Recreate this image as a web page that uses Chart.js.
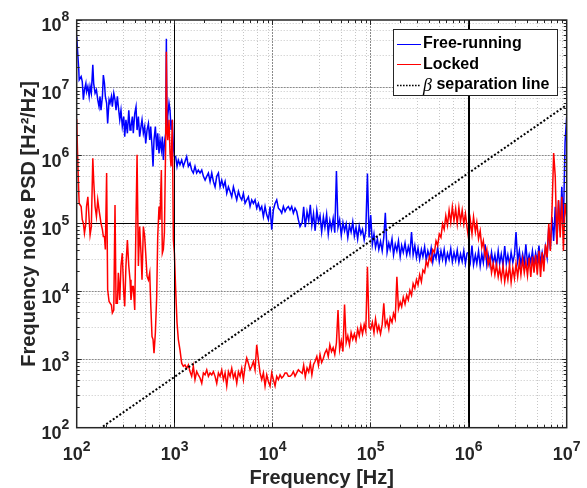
<!DOCTYPE html>
<html><head><meta charset="utf-8">
<script src="https://cdn.jsdelivr.net/npm/chart.js@4.4.1/dist/chart.umd.min.js"></script>
<style>html,body{margin:0;padding:0;background:#fff}canvas{display:block}</style>
</head><body>
<canvas id="c" width="587" height="488"></canvas>
<script>
// ---------------- data ----------------
const freqHz = [
  // 100 Hz - 1 kHz
  100,102,105,106,111,114,117,120,124,126,
  130,134,137,141,146,149,154,159,164,169,
  173,177,183,187,192,196,202,207,214,219,
  226,231,239,246,252,260,266,275,283,292,
  302,309,318,329,340,350,358,370,378,391,
  403,413,426,439,453,464,479,494,506,522,
  539,556,569,587,601,615,635,655,671,692,
  708,731,748,766,785,809,822,835,849,875,
  896,918,946,969,993,
  // 1 kHz - 20 kHz
  1023,1056,1089,1132,1178,1225,1274,1325,1378,1433,
  1490,1549,1611,1675,1742,1814,1888,1963,2042,2123,
  2208,2296,2388,2483,2582,2685,2793,2904,3020,3141,
  3266,3397,3532,3673,3820,3972,4131,4296,4467,4645,
  4831,5024,5224,5433,5650,5875,6110,6354,6607,6871,
  7145,7430,7727,8035,8356,8690,9036,9397,9772,10160,
  10570,10990,11430,11890,12360,12850,13370,13900,14450,15030,
  15630,16250,16900,17580,18280,19010,
  // 20 kHz - 100 kHz
  2.00e4,2.07e4,2.15e4,2.24e4,2.33e4,2.42e4,2.51e4,2.61e4,2.71e4,2.82e4,
  2.93e4,3.04e4,3.16e4,3.29e4,3.41e4,3.55e4,3.69e4,3.83e4,3.98e4,4.14e4,
  4.30e4,4.47e4,4.64e4,4.82e4,5.01e4,5.21e4,5.41e4,5.62e4,5.84e4,6.07e4,
  6.31e4,6.56e4,6.81e4,7.08e4,7.36e4,7.64e4,7.94e4,8.25e4,8.58e4,8.91e4,
  9.26e4,9.62e4,
  // 100 kHz - 1 MHz
  1.00e5,1.04e5,1.08e5,1.12e5,1.17e5,1.21e5,1.26e5,1.31e5,1.36e5,1.41e5,
  1.47e5,1.53e5,1.58e5,1.65e5,1.71e5,1.78e5,1.85e5,1.92e5,2.00e5,2.07e5,
  2.15e5,2.24e5,2.33e5,2.42e5,2.51e5,2.61e5,2.71e5,2.82e5,2.93e5,3.04e5,
  3.16e5,3.29e5,3.41e5,3.55e5,3.69e5,3.83e5,3.98e5,4.14e5,4.30e5,4.47e5,
  4.64e5,4.82e5,5.01e5,5.21e5,5.41e5,5.62e5,5.84e5,6.07e5,6.31e5,6.56e5,
  6.81e5,7.08e5,7.36e5,7.64e5,7.94e5,8.25e5,8.58e5,8.91e5,9.26e5,9.62e5,
  // 1 MHz - 10 MHz
  1.00e6,1.04e6,1.08e6,1.12e6,1.17e6,1.21e6,1.26e6,1.31e6,1.36e6,1.41e6,
  1.47e6,1.53e6,1.58e6,1.65e6,1.71e6,1.78e6,1.85e6,1.92e6,2.00e6,2.07e6,
  2.15e6,2.24e6,2.33e6,2.42e6,2.51e6,2.61e6,2.71e6,2.82e6,2.93e6,3.04e6,
  3.16e6,3.29e6,3.41e6,3.55e6,3.69e6,3.83e6,3.98e6,4.14e6,4.30e6,4.47e6,
  4.64e6,4.82e6,5.01e6,5.21e6,5.41e6,5.62e6,5.84e6,6.07e6,6.31e6,6.56e6,
  6.81e6,7.08e6,7.36e6,7.64e6,7.94e6,8.25e6,8.58e6,8.91e6,9.26e6,9.62e6,
  1.00e7
];

const freeRunningPSD = [
  5.7e7,3.6e7,1.84e7,1.31e7,1.47e7,1.24e7,6.7e6,9.4e6,1.17e7,8.8e6,
  1.05e7,7.5e6,1.05e7,8.4e6,2.2e7,1.17e7,8.4e6,9.4e6,6.7e6,5.3e6,
  7.5e6,4.7e6,7.5e6,1.55e7,1.17e7,7.5e6,6.0e6,3.0e6,6.7e6,6.0e6,
  7.5e6,5.3e6,8.4e6,6.7e6,4.7e6,7.5e6,5.3e6,3.4e6,4.7e6,2.7e6,
  3.8e6,1.92e6,3.4e6,2.15e6,4.7e6,2.4e6,2.7e6,3.8e6,2.15e6,4.2e6,
  5.3e6,2.4e6,3.8e6,1.92e6,2.7e6,3.4e6,2.15e6,2.7e6,1.53e6,2.4e6,
  3.0e6,1.72e6,2.7e6,1.37e6,7.0e5,1.72e6,2.7e6,1.22e6,2.15e6,1.09e6,
  1.72e6,1.22e6,1.92e6,8.7e5,1.53e6,2.15e6,5.3e7,2.15e6,3.8e6,6.0e6,
  4.7e6,2.4e6,3.4e6,1.37e6,9.8e5,
  9.8e5,7.0e5,8.7e5,7.4e5,8.7e5,7.0e5,8.3e5,9.8e5,7.0e5,7.8e5,
  6.2e5,5.6e5,7.0e5,5.6e5,6.2e5,5.6e5,6.2e5,5.0e5,4.4e5,5.0e5,
  5.6e5,4.2e5,5.6e5,4.2e5,3.5e5,5.0e5,5.6e5,3.5e5,4.4e5,3.5e5,
  4.2e5,2.8e5,3.5e5,3.0e5,2.5e5,3.5e5,2.8e5,2.25e5,3.0e5,2.5e5,
  2.25e5,2.8e5,2.0e5,2.25e5,2.5e5,1.8e5,2.25e5,2.0e5,2.25e5,1.7e5,
  2.0e5,1.6e5,1.8e5,1.28e5,1.8e5,1.36e5,1.15e5,1.8e5,8.2e4,1.6e5,
  2.0e5,2.25e5,1.7e5,1.6e5,1.44e5,1.8e5,1.52e5,1.7e5,1.8e5,1.6e5,
  1.8e5,1.44e5,1.7e5,1.52e5,1.15e5,9.1e4,
  1.05e5,1.78e5,8.9e4,1.51e5,1.12e5,1.91e5,9.5e4,1.41e5,7.9e4,1.58e5,
  1.07e5,1.32e5,7.6e4,1.26e5,8.9e4,1.38e5,7.1e4,1.12e5,8.3e4,1.20e5,
  7.4e4,6.0e5,8.9e4,1.15e5,6.8e4,1.05e5,7.9e4,1.0e5,6.3e4,9.5e4,
  7.6e4,1.07e5,6.6e4,8.9e4,6.0e4,9.3e4,7.1e4,8.3e4,5.8e4,7.9e4,
  5.5e5,6.3e4,
  1.35e5,5.0e4,7.1e4,4.5e4,6.0e4,4.2e4,5.5e4,4.0e4,6.3e4,1.45e5,
  3.8e4,5.2e4,4.2e4,6.0e4,3.5e4,5.0e4,4.0e4,5.6e4,3.3e4,4.8e4,
  3.8e4,5.2e4,3.5e4,4.6e4,3.6e4,7.6e4,3.5e4,4.8e4,3.2e4,4.4e4,
  3.0e4,4.2e4,3.3e4,4.6e4,2.9e4,4.0e4,3.2e4,4.4e4,2.75e4,3.8e4,
  3.1e4,4.5e4,2.8e4,4.0e4,3.0e4,4.2e4,2.7e4,3.7e4,3.0e4,4.3e4,
  2.75e4,3.8e4,2.9e4,4.1e4,2.7e4,3.6e4,2.8e4,4.0e4,2.6e4,3.7e4,
  3.8e4,2.75e4,4.8e4,2.5e4,3.5e4,2.6e4,4.0e4,2.4e4,3.6e4,2.7e4,
  5.0e4,2.5e4,3.5e4,2.45e4,3.8e4,2.6e4,3.5e4,2.4e4,4.0e4,2.6e4,
  3.6e4,2.45e4,4.7e4,2.6e4,3.5e4,2.5e4,3.8e4,2.7e4,3.5e4,7.6e4,
  2.8e4,4.0e4,2.5e4,3.6e4,2.6e4,5.0e4,2.6e4,3.5e4,2.7e4,4.0e4,
  2.5e4,3.7e4,2.75e4,4.8e4,2.6e4,3.8e4,2.8e4,4.6e4,3.2e4,8.9e4,
  4.2e4,1.26e5,5.6e4,1.78e5,5.0e4,2.2e5,7.9e4,3.5e5,1.0e5,1.58e6,
  3.8e6
];

const lockedPSD = [
  3.5e6,1.09e6,2.8e5,2.0e5,1.8e5,1.15e5,1.02e5,7.3e4,1.02e5,1.8e5,
  2.5e5,1.15e5,6.9e4,9.1e4,9.2e5,4.4e5,1.8e5,1.28e5,2.25e5,1.6e5,
  1.28e5,1.02e5,8.2e4,6.5e4,6.5e4,4.2e4,5.6e5,1.07e4,7.2e3,6.8e3,
  6.4e3,4.9e3,5.4e3,1.9e5,6.8e3,6.8e3,1.9e4,7.6e3,2.4e4,3.7e4,
  9.5e3,6.1e3,2.4e4,5.8e4,2.4e4,1.5e4,7.6e3,1.2e4,1.2e4,5.4e3,
  1.15e5,1.04e6,2.4e4,9.1e4,3.7e4,1.5e4,9.1e4,6.5e4,3.7e4,1.7e4,
  1.5e4,1.9e4,6.8e3,2.2e3,2.0e3,1.25e3,2.5e3,8.5e3,6.5e4,1.8e5,
  1.15e5,6.2e5,3.7e4,4.2e4,7.3e4,1.53e6,3.4e7,2.4e6,1.7e6,3.4e6,
  1.09e6,7.0e5,3.4e6,5.8e4,3.7e4,
  1.07e4,3.5e3,2.0e3,1.4e3,890,800,840,750,840,670,
  570,800,510,670,600,540,450,640,600,710,
  570,640,600,670,570,450,640,570,710,510,
  640,410,670,570,750,540,640,450,670,570,
  750,510,800,1060,890,710,800,940,710,1660,
  1000,640,510,640,410,600,480,410,640,510,
  410,570,510,600,540,570,640,640,570,570,
  600,670,570,640,710,670,
  630,830,560,760,660,890,600,850,950,1120,
  830,1200,910,1050,1260,1410,1120,1660,1320,1510,
  1200,1780,5400,1410,1910,1320,6500,1780,2240,1660,
  2510,2000,2400,1910,2820,2240,3160,2400,3310,2630,
  2.34e4,3020,
  2820,3550,2510,3980,2630,3160,2400,3310,6760,3160,
  3800,2820,4170,3550,4790,3980,1.66e4,5620,7080,6030,
  8320,6610,8910,7590,1.05e4,8910,1.32e4,1.12e4,1.51e4,1.26e4,
  1.78e4,1.41e4,2.09e4,1.91e4,2.82e4,2.40e4,3.31e4,2.82e4,4.17e4,3.80e4,
  5.62e4,4.79e4,7.08e4,6.31e4,1.0e5,8.3e4,1.32e5,9.5e4,1.58e5,1.05e5,
  1.78e5,1.12e5,1.66e5,1.0e5,1.74e5,1.07e5,1.58e5,1.0e5,1.41e5,8.9e4,
  6.0e4,1.12e5,7.1e4,1.26e5,7.6e4,1.05e5,6.0e4,7.9e4,4.5e4,5.6e4,
  3.3e4,4.2e4,2.5e4,3.2e4,1.91e4,2.6e4,1.78e4,2.5e4,1.66e4,2.24e4,
  1.51e4,2.4e4,1.41e4,2.09e4,1.51e4,2.5e4,1.38e4,2.24e4,1.58e4,2.6e4,
  1.66e4,2.8e4,1.78e4,3.0e4,1.91e4,2.8e4,1.74e4,3.2e4,1.66e4,3.3e4,
  1.91e4,3.5e4,1.78e4,4.0e4,1.66e4,3.8e4,2.0e4,5.0e4,3.2e4,1.0e5,
  4.0e4,1.58e5,1.1e6,5.0e5,5.0e4,2.24e5,6.3e4,2.5e5,4.0e4,2.0e5,
  1.26e5
];

const betaFreq = [1e2, 1e7];
const betaPSD = [56.2, 5.62e6];

const seriesLabels = ['Free-running', 'Locked', 'β separation line'];
const xTickPowers = [2, 3, 4, 5, 6, 7];
const yTickPowers = [2, 3, 4, 5, 6, 7, 8];
const markerLinesX = [1e3, 1e6];
const markerLinesY = [1e5];
const xTitle = 'Frequency [Hz]';
const yTitle = 'Frequency noise PSD [Hz²/Hz]';

// ---------------- styling ----------------
const FONT = "'Liberation Sans', Arial, Helvetica, sans-serif";
const AXIS_COLOR = '#262626';

function pairs(xs, ys) { return xs.map((x, i) => ({ x: x, y: ys[i] })); }

function seg(ctx, x0, y0, x1, y1) { ctx.beginPath(); ctx.moveTo(x0, y0); ctx.lineTo(x1, y1); ctx.stroke(); }

const decor = {
  id: 'decor',
  beforeDatasetsDraw(chart) {
    const { ctx, chartArea: a, scales: { x, y } } = chart;
    ctx.save();
    ctx.lineWidth = 1;
    // minor grid
    ctx.strokeStyle = '#c6c6c6';
    ctx.setLineDash([1, 2]);
    for (let p = xTickPowers[0]; p < xTickPowers[xTickPowers.length - 1]; p++) {
      for (const m of [3, 5, 7, 9]) {
        const px = Math.floor(x.getPixelForValue(m * Math.pow(10, p))) + 0.5;
        seg(ctx, px, a.top, px, a.bottom);
      }
    }
    for (let p = yTickPowers[0]; p < yTickPowers[yTickPowers.length - 1]; p++) {
      for (const m of [3, 5, 7, 9]) {
        const py = Math.floor(y.getPixelForValue(m * Math.pow(10, p))) + 0.5;
        seg(ctx, a.left, py, a.right, py);
      }
    }
    // major grid
    ctx.strokeStyle = '#8a8a8a';
    ctx.setLineDash([2, 1]);
    xTickPowers.slice(1, -1).forEach(p => {
      const px = Math.floor(x.getPixelForValue(Math.pow(10, p))) + 0.5;
      seg(ctx, px, a.top, px, a.bottom);
    });
    yTickPowers.slice(1, -1).forEach(p => {
      const py = Math.floor(y.getPixelForValue(Math.pow(10, p))) + 0.5;
      seg(ctx, a.left, py, a.right, py);
    });
    // horizontal marker line
    ctx.setLineDash([]);
    ctx.strokeStyle = '#000';
    markerLinesY.forEach(v => {
      const py = Math.floor(y.getPixelForValue(v)) + 0.5;
      seg(ctx, a.left, py, a.right, py);
    });
    ctx.restore();
  },
  afterDatasetsDraw(chart) {
    const { ctx, chartArea: a, scales: { x } } = chart;
    ctx.save();
    ctx.strokeStyle = '#000';
    markerLinesX.forEach((v, i) => {
      const px = x.getPixelForValue(v);
      if (i === markerLinesX.length - 1) {
        ctx.lineWidth = 2;
        seg(ctx, Math.round(px), a.top, Math.round(px), a.bottom);
      } else {
        ctx.lineWidth = 1;
        seg(ctx, Math.floor(px) + 0.5, a.top, Math.floor(px) + 0.5, a.bottom);
      }
    });
    ctx.restore();
  },
  afterDraw(chart) {
    const { ctx, chartArea: a, scales: { x, y } } = chart;
    ctx.save();
    // ticks (inside, all four sides)
    ctx.strokeStyle = AXIS_COLOR;
    ctx.lineWidth = 1;
    ctx.setLineDash([]);
    for (let p = xTickPowers[0]; p <= xTickPowers[xTickPowers.length - 1]; p++) {
      for (let m = 1; m <= 9; m++) {
        const v = m * Math.pow(10, p);
        if (p === xTickPowers[xTickPowers.length - 1] && m > 1) break;
        const px = Math.floor(x.getPixelForValue(v)) + 0.5;
        const len = m === 1 ? 5 : 3;
        seg(ctx, px, a.bottom, px, a.bottom - len);
        seg(ctx, px, a.top, px, a.top + len);
      }
    }
    for (let p = yTickPowers[0]; p <= yTickPowers[yTickPowers.length - 1]; p++) {
      for (let m = 1; m <= 9; m++) {
        const v = m * Math.pow(10, p);
        if (p === yTickPowers[yTickPowers.length - 1] && m > 1) break;
        const py = Math.floor(y.getPixelForValue(v)) + 0.5;
        const len = m === 1 ? 5 : 3;
        seg(ctx, a.left, py, a.left + len, py);
        seg(ctx, a.right, py, a.right - len, py);
      }
    }
    // frame
    ctx.lineWidth = 1.5;
    ctx.strokeRect(a.left, a.top, a.right - a.left, a.bottom - a.top);

    // tick labels with superscript exponents
    ctx.fillStyle = AXIS_COLOR;
    ctx.textBaseline = 'alphabetic';
    ctx.textAlign = 'left';
    const baseFont = 'bold 18px ' + FONT;
    const expFont = 'bold 14px ' + FONT;
    xTickPowers.forEach(p => {
      const cx = x.getPixelForValue(Math.pow(10, p));
      ctx.font = baseFont; const wb = ctx.measureText('10').width;
      ctx.font = expFont; const we = ctx.measureText(String(p)).width;
      const sx = cx - (wb + we) / 2;
      ctx.font = baseFont; ctx.fillText('10', sx, 460);
      ctx.font = expFont; ctx.fillText(String(p), sx + wb, 451);
    });
    yTickPowers.forEach(p => {
      const cy = y.getPixelForValue(Math.pow(10, p));
      ctx.font = baseFont; const wb = ctx.measureText('10').width;
      ctx.font = expFont; const we = ctx.measureText(String(p)).width;
      const sx = a.left - 7.4 - (wb + we);
      ctx.font = baseFont; ctx.fillText('10', sx, cy + 11.3);
      ctx.font = expFont; ctx.fillText(String(p), sx + wb, cy + 0.8);
    });

    // legend
    const lg = { x: 393.5, y: 29.5, w: 164, h: 66 };
    const rowY = [44, 64.5, 85];
    ctx.fillStyle = '#fff';
    ctx.fillRect(lg.x, lg.y, lg.w, lg.h);
    ctx.strokeStyle = AXIS_COLOR;
    ctx.lineWidth = 1;
    ctx.strokeRect(lg.x, lg.y, lg.w, lg.h);
    chart.data.datasets.forEach((ds, i) => {
      const ry = rowY[i];
      ctx.strokeStyle = ds.borderColor;
      ctx.lineWidth = ds.borderDash ? 1.6 : 1;
      ctx.setLineDash(ds.borderDash ? [1.6, 1.4] : []);
      seg(ctx, 397, Math.floor(ry) + 0.5, 421, Math.floor(ry) + 0.5);
      ctx.setLineDash([]);
      ctx.fillStyle = '#000';
      ctx.textBaseline = 'middle';
      ctx.textAlign = 'left';
      let tx = 423;
      let text = ds.label;
      if (text.charAt(0) === 'β') {
        ctx.font = "italic 18px 'Liberation Serif', 'DejaVu Serif', serif";
        ctx.fillText('β', tx, ry + 1);
        tx += ctx.measureText('β').width + 4.5;
        text = text.slice(1).trim();
      }
      ctx.font = 'bold 16px ' + FONT;
      ctx.fillText(text, tx, ry);
    });
    ctx.restore();
  }
};

new Chart(document.getElementById('c'), {
  type: 'line',
  data: {
    datasets: [
      { label: seriesLabels[0], data: pairs(freqHz, freeRunningPSD), borderColor: '#0000ff',
        borderWidth: 1.5, pointRadius: 0, order: 2, clip: 0 },
      { label: seriesLabels[1], data: pairs(freqHz, lockedPSD), borderColor: '#ff0000',
        borderWidth: 1.5, pointRadius: 0, order: 1, clip: 0 },
      { label: seriesLabels[2], data: pairs(betaFreq, betaPSD), borderColor: '#000000',
        borderWidth: 2, borderDash: [2, 2], pointRadius: 0, order: 0, clip: 0 }
    ]
  },
  options: {
    responsive: false,
    animation: false,
    devicePixelRatio: 1,
    layout: { padding: { left: 0, top: 20, right: 20.3, bottom: 0 } },
    elements: { line: { tension: 0 } },
    plugins: { legend: { display: false }, tooltip: { enabled: false } },
    scales: {
      x: {
        type: 'logarithmic', min: 100, max: 1e7,
        grid: { display: false }, border: { display: false },
        ticks: { display: false },
        title: { display: true, text: xTitle, color: AXIS_COLOR,
                 font: { family: FONT, size: 20, weight: 'bold', lineHeight: 1 },
                 padding: { top: 0, bottom: 0 } },
        afterFit: s => { s.height = 60.3; }
      },
      y: {
        type: 'logarithmic', min: 100, max: 1e8,
        grid: { display: false }, border: { display: false },
        ticks: { display: false },
        title: { display: true, text: yTitle, color: AXIS_COLOR,
                 font: { family: FONT, size: 20, weight: 'bold', lineHeight: 1 },
                 padding: { top: 19, bottom: 0 } },
        afterFit: s => { s.width = 76.7; }
      }
    }
  },
  plugins: [decor]
});
</script>
</body></html>
